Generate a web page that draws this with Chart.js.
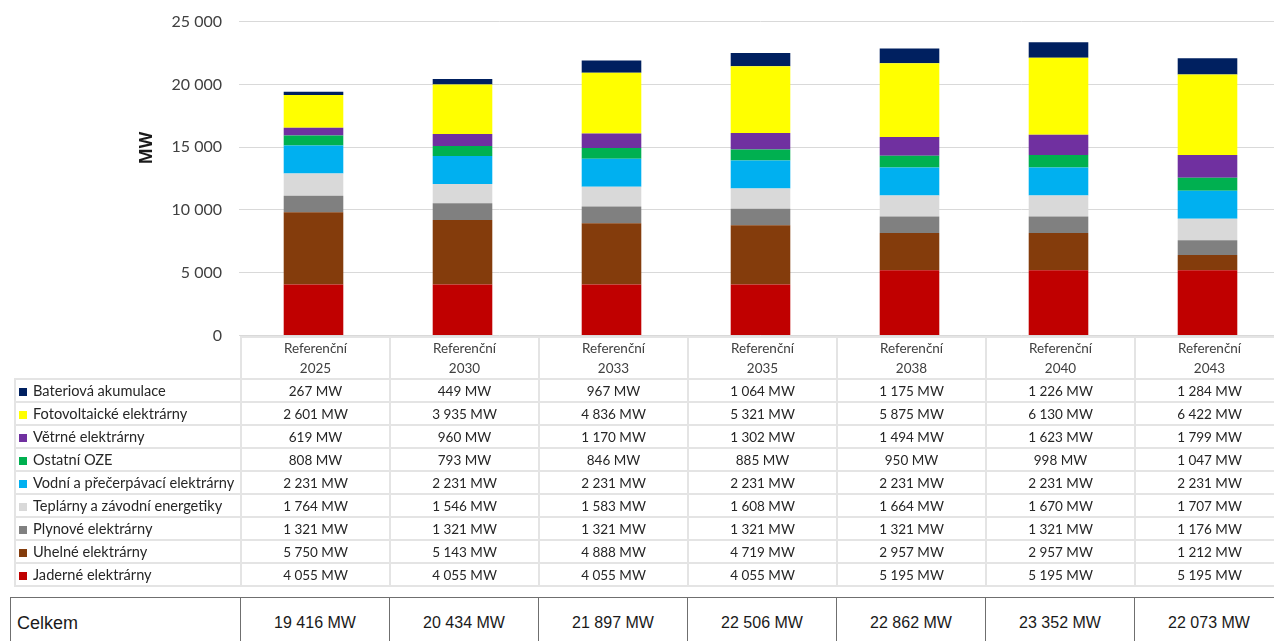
<!DOCTYPE html>
<html lang="cs">
<head>
<meta charset="utf-8">
<script src="https://cdn.jsdelivr.net/npm/chart.js@4"></script>
<style>
    body { margin: 0; width: 1274px; height: 641px; overflow: hidden; background: #fff; position: relative; }
    #chartBox { position: absolute; left: 0; top: -5px; width: 1290px; height: 367px; }
    table { border-collapse: collapse; table-layout: fixed; position: absolute; }
    #dataTable { left: 14px; top: 336px; width: 1269px; font-family: Lato, "Noto Sans", sans-serif; font-size: 13.5px; color: #262626; }
    #dataTable td { border: 2px solid #e4e4e4; height: 21px; padding: 0; text-align: center; white-space: nowrap; overflow: hidden; }
    #dataTable tr.head td { height: 40px; line-height: 20px; color: #404040; }
    #dataTable tr.head td.blank { border: none; }
    #dataTable td.name { text-align: left; padding-left: 3px; font-size: 14.6px; }
    #dataTable .mark { display: inline-block; width: 8px; height: 8px; margin-right: 6px; vertical-align: 0px; }
    #sumTable { left: 10px; top: 597px; width: 1273px; font-family: "Liberation Sans", Arial, sans-serif; font-size: 16px; color: #1a1a1a; }
    #sumTable td { border: 1px solid #6f6f6f; height: 50px; padding: 0; text-align: center; }
    #sumTable td.first { text-align: left; padding-left: 6px; font-size: 18px; }
</style>
</head>
<body>
<div id="chartBox"><canvas id="myChart" width="1290" height="367"></canvas></div>
<table id="dataTable"></table>
<table id="sumTable"></table>
<script>
// Instalovaný výkon podle scénáře (MW)
const years = ['2025', '2030', '2033', '2035', '2038', '2040', '2043'];
const scenario = 'Referenční';

const jaderne = [4055, 4055, 4055, 4055, 5195, 5195, 5195];
const uhelne = [5750, 5143, 4888, 4719, 2957, 2957, 1212];
const plynove = [1321, 1321, 1321, 1321, 1321, 1321, 1176];
const teplarny = [1764, 1546, 1583, 1608, 1664, 1670, 1707];
const vodni = [2231, 2231, 2231, 2231, 2231, 2231, 2231];
const ostatniOze = [808, 793, 846, 885, 950, 998, 1047];
const vetrne = [619, 960, 1170, 1302, 1494, 1623, 1799];
const fotovolt = [2601, 3935, 4836, 5321, 5875, 6130, 6422];
const baterie = [267, 449, 967, 1064, 1175, 1226, 1284];

const celkem = [19416, 20434, 21897, 22506, 22862, 23352, 22073];

const yTicks = [0, 5000, 10000, 15000, 20000, 25000];

// Pořadí odspodu nahoru
const series = [
    { label: 'Jaderné elektrárny', data: jaderne, color: '#C00000' },
    { label: 'Uhelné elektrárny', data: uhelne, color: '#843C0C' },
    { label: 'Plynové elektrárny', data: plynove, color: '#808080' },
    { label: 'Teplárny a závodní energetiky', data: teplarny, color: '#D9D9D9' },
    { label: 'Vodní a přečerpávací elektrárny', data: vodni, color: '#00B0F0' },
    { label: 'Ostatní OZE', data: ostatniOze, color: '#00B050' },
    { label: 'Větrné elektrárny', data: vetrne, color: '#7030A0' },
    { label: 'Fotovoltaické elektrárny', data: fotovolt, color: '#FFFF00' },
    { label: 'Bateriová akumulace', data: baterie, color: '#002060' },
];

const COL_FIRST = 226;
const COL_W = 149;

function fmt(n) {
    return String(n).replace(/\B(?=(\d{3})+(?!\d))/g, '\u00a0');
}

// Popisek osy Y
const axisTitle = {
    id: 'axisTitle',
    afterDraw(chart) {
        const ctx = chart.ctx;
        ctx.save();
        ctx.translate(147, 153);
        ctx.rotate(-Math.PI / 2);
        ctx.font = 'bold 17px "Noto Sans", "DejaVu Sans", sans-serif';
        ctx.fillStyle = '#1a1a1a';
        ctx.textAlign = 'center';
        ctx.textBaseline = 'middle';
        ctx.fillText('MW', 0, 0);
        ctx.restore();
    }
};

document.addEventListener('DOMContentLoaded', () => {
    const canvas = document.getElementById('myChart');
    const ctx = canvas.getContext('2d');

    new Chart(ctx, {
        type: 'bar',
        data: {
            labels: years.map(y => [scenario, y]),
            datasets: series.map(s => ({
                label: s.label,
                data: s.data,
                backgroundColor: s.color,
                borderWidth: 0,
                barPercentage: 0.8,
                categoryPercentage: 0.5,
            }))
        },
        options: {
            responsive: false,
            animation: false,
            layout: { padding: { top: 0, right: 8, bottom: 0, left: 0 } },
            plugins: {
                legend: { display: false },
                tooltip: { enabled: false }
            },
            scales: {
                x: {
                    stacked: true,
                    display: false
                },
                y: {
                    stacked: true,
                    min: 0,
                    max: 25000,
                    afterBuildTicks: scale => { scale.ticks = yTicks.map(v => ({ value: v })); },
                    afterFit: scale => { scale.width = 239; },
                    border: { display: false },
                    grid: { color: '#d9d9d9', lineWidth: 1, drawTicks: false },
                    ticks: {
                        padding: 17,
                        color: '#404040',
                        font: { family: 'Lato, "Noto Sans", sans-serif', size: 16 },
                        callback: v => fmt(v)
                    }
                }
            }
        },
        plugins: [axisTitle]
    });

    buildTables();
});

// Datová tabulka pod grafem
function buildTables() {
    const table = document.getElementById('dataTable');
    const cols = '<colgroup><col style="width:' + COL_FIRST + 'px">' +
        years.map(() => '<col style="width:' + COL_W + 'px">').join('') + '</colgroup>';

    let html = cols + '<tr class="head"><td class="blank"></td>' +
        years.map(y => '<td>' + scenario + '<br>' + y + '</td>').join('') + '</tr>';

    series.slice().reverse().forEach(s => {
        html += '<tr><td class="name"><span class="mark" style="background:' + s.color + '"></span>' +
            s.label + '</td>' + s.data.map(v => '<td>' + fmt(v) + ' MW</td>').join('') + '</tr>';
    });
    table.innerHTML = html;

    const sum = document.getElementById('sumTable');
    sum.innerHTML = '<colgroup><col style="width:230px">' +
        years.map(() => '<col style="width:' + COL_W + 'px">').join('') + '</colgroup>' +
        '<tr><td class="first">Celkem</td>' + celkem.map(v => '<td>' + fmt(v) + ' MW</td>').join('') + '</tr>';
}
</script>
</body>
</html>
